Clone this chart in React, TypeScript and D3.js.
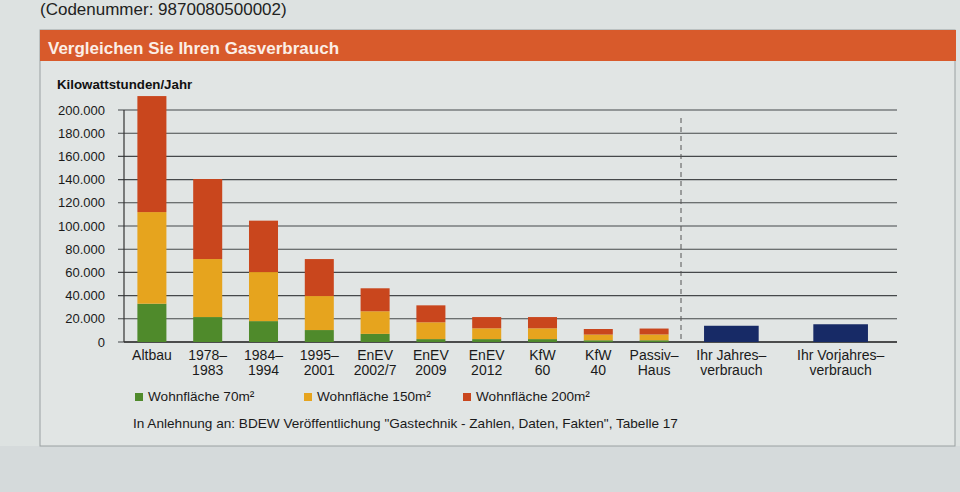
import React from "react";
import * as d3 from "d3";

const categories = ["Altbau", "1978–|1983", "1984–|1994", "1995–|2001", "EnEV|2002/7", "EnEV|2009", "EnEV|2012", "KfW|60", "KfW|40", "Passiv–|Haus"];
const area70 = [33000, 21500, 18000, 10300, 7000, 2500, 2500, 2500, 1500, 1500];
const area150 = [79000, 50000, 42300, 29300, 19500, 14500, 9300, 9300, 4900, 5000];
const area200 = [100000, 69000, 44300, 31900, 19800, 14600, 9700, 9700, 4800, 5100];
const ownCategories = ["Ihr Jahres–|verbrauch", "Ihr Vorjahres–|verbrauch"];
const ownValues = [14000, 15300];
const yTicks = [0, 20000, 40000, 60000, 80000, 100000, 120000, 140000, 160000, 180000, 200000];
const seriesNames = ["Wohnfläche 70m²", "Wohnfläche 150m²", "Wohnfläche 200m²"];
const seriesColors = ["#4f8a2b", "#e6a41e", "#c9461d"];

const W = 960, H = 492;
const FONT = "'Liberation Sans', Arial, sans-serif";

export default function App() {
  const y = d3.scaleLinear().domain([0, 200000]).range([342, 110]);
  const x = d3.scaleBand().domain(categories).range([124, 682]).paddingInner(0.48).paddingOuter(0.24);
  const x2 = d3.scaleBand().domain(ownCategories).range([680, 892]).paddingInner(0.5).paddingOuter(0.22);
  const rows = categories.map((c, i) => ({ cat: c, a: area70[i], b: area150[i], c2: area200[i] }));
  const stack = d3.stack<any>().keys(["a", "b", "c2"])(rows);
  const fmt = (v: number) => (v === 0 ? "0" : d3.format(",")(v).replace(/,/g, "."));
  const legendX = d3.scaleOrdinal<string, number>().domain(seriesNames).range([135, 304, 463]);

  const label = (txt: string, cx: number, key: string) => {
    const parts = txt.split("|");
    return (
      <text key={key} x={cx} y={360} textAnchor="middle" fontSize={14} fill="#1a1a1a" fontFamily={FONT}>
        {parts.map((p, j) => (
          <tspan key={j} x={cx} dy={j === 0 ? 0 : 15}>{p}</tspan>
        ))}
      </text>
    );
  };

  return (
    <svg width={W} height={H} style={{ position: "absolute", left: 0, top: 0 }} fontFamily={FONT}>
      <rect x={0} y={0} width={W} height={H} fill="#dde2e1" />
      <rect x={0} y={446} width={W} height={H - 446} fill="#d5dadb" />
      <rect x={40} y={30} width={915} height={416} fill="#e1e5e4" stroke="#9aa0a2" strokeWidth={1} />
      <text x={40} y={15} fontSize={17} fill="#222">(Codenummer: 9870080500002)</text>
      <rect x={40} y={30} width={916} height={31} fill="#d85a2b" />
      <text x={48} y={54} fontSize={17} fontWeight="bold" fill="#fbeee6">Vergleichen Sie Ihren Gasverbrauch</text>
      <text x={57} y={89} fontSize={13.3} fontWeight="bold" fill="#111">Kilowattstunden/Jahr</text>

      {yTicks.map((t) => (
        <g key={t}>
          <line x1={118} x2={897} y1={y(t)} y2={y(t)} stroke="#45484a" strokeWidth={1.1} />
          <text x={105} y={y(t) + 4.5} textAnchor="end" fontSize={13} fill="#1a1a1a">{fmt(t)}</text>
        </g>
      ))}
      <line x1={124} x2={124} y1={y(200000)} y2={y(0)} stroke="#333" strokeWidth={1.2} />
      <line x1={124} x2={897} y1={y(0)} y2={y(0)} stroke="#333" strokeWidth={1.4} />

      {stack.map((s, si) => (
        <g key={si} fill={seriesColors[si]}>
          {s.map((d: any) => (
            <rect key={d.data.cat} x={x(d.data.cat)} width={x.bandwidth()} y={y(d[1])} height={y(d[0]) - y(d[1])} />
          ))}
        </g>
      ))}
      {ownCategories.map((c, i) => (
        <rect key={c} x={x2(c)} width={x2.bandwidth()} y={y(ownValues[i])} height={y(0) - y(ownValues[i])} fill="#172a66" />
      ))}
      <line x1={681} x2={681} y1={118} y2={342} stroke="#555" strokeWidth={1} strokeDasharray="5,4" />

      {categories.map((c) => label(c, (x(c) as number) + x.bandwidth() / 2, c))}
      {ownCategories.map((c) => label(c, (x2(c) as number) + x2.bandwidth() / 2, c))}

      {seriesNames.map((n, i) => {
        const lx = legendX(n);
        return (
          <g key={n}>
            <rect x={lx} y={393} width={8} height={8} fill={seriesColors[i]} />
            <text x={lx + 13} y={401} fontSize={13.6} fill="#1a1a1a">{n}</text>
          </g>
        );
      })}
      <text x={133} y={428} fontSize={13.6} fill="#1a1a1a">In Anlehnung an: BDEW Veröffentlichung "Gastechnik - Zahlen, Daten, Fakten", Tabelle 17</text>
    </svg>
  );
}
